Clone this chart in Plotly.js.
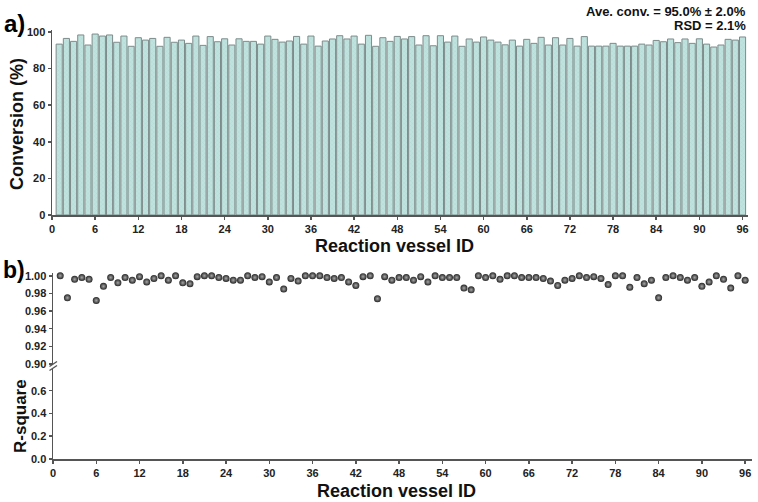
<!DOCTYPE html>
<html><head><meta charset="utf-8">
<script src="https://cdn.plot.ly/plotly-3.0.1.min.js"></script>
<style>html,body{margin:0;padding:0;background:#fff}#chart{width:758px;height:502px}</style>
</head><body><div id="chart"></div>
<script>
const vesselIds = [1,2,3,4,5,6,7,8,9,10,11,12,13,14,15,16,17,18,19,20,21,22,23,24,25,26,27,28,29,30,31,32,33,34,35,36,37,38,39,40,41,42,43,44,45,46,47,48,49,50,51,52,53,54,55,56,57,58,59,60,61,62,63,64,65,66,67,68,69,70,71,72,73,74,75,76,77,78,79,80,81,82,83,84,85,86,87,88,89,90,91,92,93,94,95,96];
const conversion = [93.4,96.5,94.9,98.4,92.9,98.9,97.8,98.4,94.4,97.8,92.2,96.9,95.6,96.5,92.2,97.1,94.4,95.6,93.8,97.8,92.7,97.5,94.7,96.3,92.9,96.3,94.9,94.9,93.4,97.8,96.0,94.5,95.1,97.6,93.4,97.8,92.3,95.1,96.2,98.0,96.2,97.8,93.4,98.2,92.2,96.9,94.9,97.6,96.2,97.5,92.9,98.0,92.5,98.0,94.5,97.8,92.2,96.2,94.5,97.3,95.6,94.5,93.0,95.6,92.3,96.0,93.8,97.1,92.9,96.9,92.9,96.5,92.3,97.5,92.3,92.3,92.3,93.8,92.3,92.3,92.3,93.4,92.9,95.4,94.7,96.2,94.2,96.2,93.8,96.3,93.4,91.8,92.9,96.0,95.6,97.3];
const rSquare = [1.000,0.975,0.996,0.998,0.996,0.972,0.988,0.998,0.992,0.998,0.995,0.999,0.993,0.997,1.000,0.995,1.000,0.992,0.991,0.999,1.000,1.000,0.998,0.997,0.995,0.995,1.000,0.998,0.999,0.993,0.998,0.985,0.997,0.994,1.000,1.000,1.000,0.998,0.997,0.998,0.993,0.989,0.999,1.000,0.974,0.999,0.995,0.998,0.998,0.995,0.999,0.993,1.000,0.998,0.998,0.998,0.986,0.984,1.000,0.998,1.000,0.996,1.000,1.000,0.998,0.998,0.998,0.997,0.994,0.989,0.995,0.997,1.000,0.998,0.999,0.997,0.990,1.000,1.000,0.987,0.998,0.991,0.995,0.975,0.998,1.000,0.998,0.995,0.998,0.988,0.993,1.000,0.996,0.986,1.000,0.995];
const xTickVals = [0,6,12,18,24,30,36,42,48,54,60,66,72,78,84,90,96];
const convTickVals = [0,20,40,60,80,100];
const r2UpperTicks = [0.90,0.92,0.94,0.96,0.98,1.00];
const r2LowerTicks = [0.0,0.2,0.4,0.6];

const W = 758, H = 502;
const px = x => x / W;
const py = y => 1 - y / H;

const AX = '#555';
const FAM = 'Liberation Sans, Arial, sans-serif';
const tickFont = {family: FAM, size: 11, color: '#222', weight: 'bold'};
const baseAxis = {
  showline: true, linecolor: AX, linewidth: 1.5, ticks: 'outside', ticklen: 3,
  tickwidth: 1.5, tickcolor: AX, showgrid: false, zeroline: false, tickfont: tickFont,
  fixedrange: true
};

const traces = [
  {
    type: 'bar', x: vesselIds, y: conversion, xaxis: 'x', yaxis: 'y',
    marker: {
      color: '#bde2de',
      line: {color: '#7d8c8a', width: 1},
      pattern: {shape: 'x', size: 3, solidity: 0.12, fillmode: 'replace', bgcolor: '#c0e3df', fgcolor: '#9dcac5'}
    },
    hoverinfo: 'skip'
  },
  {
    type: 'scatter', mode: 'markers', x: [], y: [], xaxis: 'x2', yaxis: 'y2', hoverinfo: 'skip'
  },
  {
    type: 'scatter', mode: 'markers', x: vesselIds, y: rSquare, xaxis: 'x2', yaxis: 'y3',
    marker: {size: 7, color: '#262626', line: {width: 0}, gradient: {type: 'radial', color: '#a8a8a8'}},
    cliponaxis: false, hoverinfo: 'skip'
  }
];

const titleFont = {family: FAM, size: 18, color: '#111', weight: 'bold'};
const annFont = {family: FAM, size: 13, color: '#111', weight: 'bold'};

const layout = {
  width: W, height: H, margin: {l: 0, r: 0, t: 0, b: 0},
  paper_bgcolor: '#fff', plot_bgcolor: 'rgba(0,0,0,0)', showlegend: false,
  bargap: 0.15,
  xaxis: Object.assign({}, baseAxis, {domain: [px(52), px(748.3)], range: [0, 96.8], anchor: 'y', tickmode: 'array', tickvals: xTickVals}),
  yaxis: Object.assign({}, baseAxis, {domain: [py(215), py(30.2)], range: [0, 101], anchor: 'x', tickmode: 'array', tickvals: convTickVals}),
  xaxis2: Object.assign({}, baseAxis, {domain: [px(53), px(752)], range: [0, 96.95], anchor: 'y2', tickmode: 'array', tickvals: xTickVals}),
  yaxis2: Object.assign({}, baseAxis, {domain: [py(459), py(369)], range: [0, 0.79], anchor: 'x2', tickmode: 'array', tickvals: r2LowerTicks, tickformat: '.1f'}),
  yaxis3: Object.assign({}, baseAxis, {domain: [py(364), py(273.1)], range: [0.9, 1.003], anchor: 'x2', tickmode: 'array', tickvals: r2UpperTicks, tickformat: '.2f'}),
  shapes: [
    {type: 'line', xref: 'paper', yref: 'paper', x0: px(49.5), y0: py(366.5), x1: px(57), y1: py(361.5), line: {color: AX, width: 1.3}},
    {type: 'line', xref: 'paper', yref: 'paper', x0: px(49.5), y0: py(370.5), x1: px(57), y1: py(365.5), line: {color: AX, width: 1.3}}
  ],
  annotations: [
    {text: 'a)', xref: 'paper', yref: 'paper', x: px(2), y: py(24), xanchor: 'left', yanchor: 'middle', showarrow: false, font: {family: FAM, size: 24, color: '#000', weight: 'bold'}},
    {text: 'b)', xref: 'paper', yref: 'paper', x: px(1), y: py(270), xanchor: 'left', yanchor: 'middle', showarrow: false, font: {family: FAM, size: 23, color: '#000', weight: 'bold'}},
    {text: 'Ave. conv. = 95.0% ± 2.0%', xref: 'paper', yref: 'paper', x: px(748), y: py(12), xanchor: 'right', yanchor: 'middle', showarrow: false, font: annFont},
    {text: 'RSD = 2.1%', xref: 'paper', yref: 'paper', x: px(748), y: py(26), xanchor: 'right', yanchor: 'middle', showarrow: false, font: annFont},
    {text: 'Conversion (%)', xref: 'paper', yref: 'paper', x: px(17), y: py(124), xanchor: 'center', yanchor: 'middle', textangle: -90, showarrow: false, font: titleFont},
    {text: 'R-square', xref: 'paper', yref: 'paper', x: px(20), y: py(416), xanchor: 'center', yanchor: 'middle', textangle: -90, showarrow: false, font: {family: FAM, size: 17, color: '#111', weight: 'bold'}},
    {text: 'Reaction vessel ID', xref: 'paper', yref: 'paper', x: px(394), y: py(246), xanchor: 'center', yanchor: 'middle', showarrow: false, font: titleFont},
    {text: 'Reaction vessel ID', xref: 'paper', yref: 'paper', x: px(396), y: py(491), xanchor: 'center', yanchor: 'middle', showarrow: false, font: titleFont}
  ]
};

Plotly.newPlot('chart', traces, layout, {staticPlot: true, displayModeBar: false});
</script>
</body></html>
